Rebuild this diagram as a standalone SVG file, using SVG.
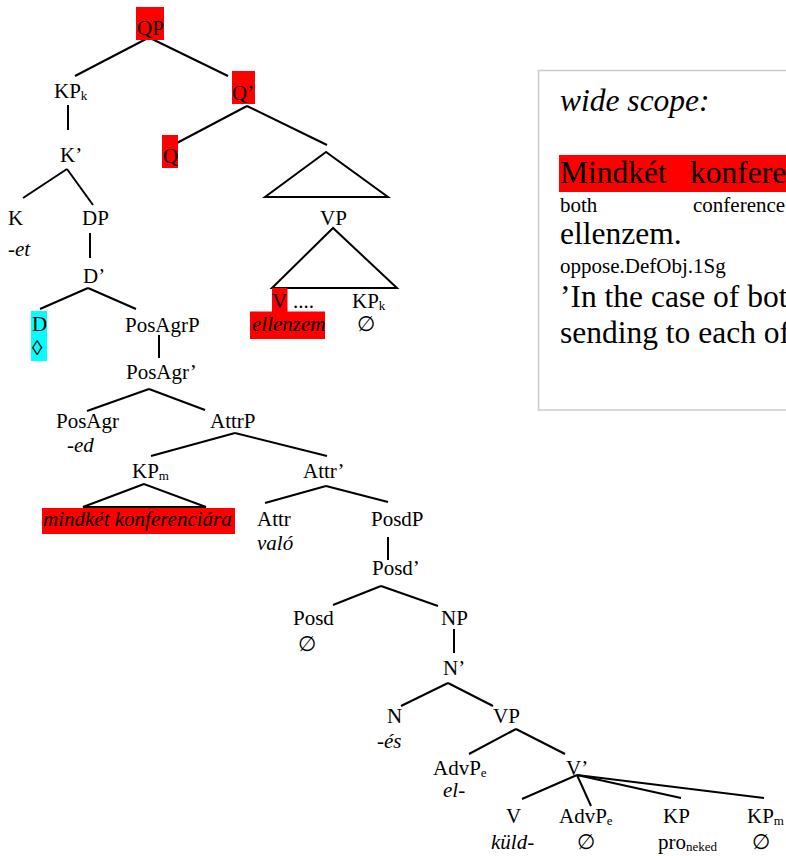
<svg xmlns="http://www.w3.org/2000/svg" width="786" height="856" viewBox="0 0 786 856">
<style>
text{font-family:"Liberation Serif","Times New Roman",serif;font-size:21px;fill:#000}
.i{font-style:italic}
.s{font-size:13px}
.b{font-size:31.5px}
.e{font-family:"Liberation Serif","DejaVu Serif",serif}
.red{fill:#ff0000}
.cy{fill:#00ffff}
#connectors line,#connectors polygon{stroke:#000;stroke-width:2;fill:none;stroke-linecap:butt}
</style>
<rect width="786" height="856" fill="#fff"/>
<g id="connectors">
<line x1="148" y1="38" x2="75" y2="76"/>
<line x1="150" y1="38" x2="228" y2="76"/>
<line x1="68" y1="105" x2="68" y2="130"/>
<line x1="67" y1="169" x2="23" y2="198"/>
<line x1="67" y1="169" x2="93" y2="205"/>
<line x1="247" y1="106" x2="175" y2="144"/>
<line x1="247" y1="106" x2="327" y2="145"/>
<polygon points="326,152 265,197 388,197"/>
<line x1="90" y1="233" x2="90" y2="258"/>
<line x1="88" y1="288" x2="40" y2="309"/>
<line x1="88" y1="288" x2="136" y2="309"/>
<line x1="159" y1="335" x2="159" y2="358"/>
<polygon points="333,228 272,288 397,288"/>
<line x1="149" y1="389" x2="87" y2="411"/>
<line x1="149" y1="389" x2="205" y2="410"/>
<line x1="235" y1="433" x2="151" y2="456"/>
<line x1="235" y1="433" x2="327" y2="456"/>
<polygon points="144,484 83,507 206,507"/>
<line x1="326" y1="486" x2="265" y2="503"/>
<line x1="326" y1="486" x2="388" y2="502"/>
<line x1="388" y1="537" x2="388" y2="560"/>
<line x1="381" y1="586" x2="333" y2="605"/>
<line x1="381" y1="586" x2="438" y2="606"/>
<line x1="454" y1="629" x2="454" y2="653"/>
<line x1="448" y1="683" x2="401" y2="706"/>
<line x1="448" y1="683" x2="493" y2="706"/>
<line x1="516" y1="729" x2="469" y2="754"/>
<line x1="516" y1="729" x2="565" y2="754"/>
<line x1="577" y1="775" x2="522" y2="799"/>
<line x1="577" y1="775" x2="591" y2="806"/>
<line x1="577" y1="775" x2="681" y2="798"/>
<line x1="577" y1="775" x2="764" y2="798"/>
</g>
<g id="n-QP"><rect class="red" x="136" y="7" width="28" height="33"/><text x="137" y="35">QP</text></g>
<g id="n-KPk"><text x="54" y="98">KP<tspan class="s" dy="2">k</tspan></text></g>
<g id="n-Qbar"><rect class="red" x="232" y="71" width="23" height="33"/><text x="232" y="100">Q’</text></g>
<g id="n-Kbar"><text x="60" y="162">K’</text></g>
<g id="n-Q"><rect class="red" x="162" y="135" width="16" height="33"/><text x="163" y="163">Q</text></g>
<g id="n-K"><text x="8" y="225">K</text><text class="i" x="8" y="256">-et</text></g>
<g id="n-DP"><text x="82" y="225">DP</text></g>
<g id="n-Dbar"><text x="83" y="283">D’</text></g>
<g id="n-D"><rect class="cy" x="31" y="311" width="16" height="50"/><text x="32" y="331">D</text><text class="e" x="32" y="355">◊</text></g>
<g id="n-PosAgrP"><text x="125" y="332">PosAgrP</text></g>
<g id="n-PosAgrbar"><text x="126" y="379">PosAgr’</text></g>
<g id="n-VP1"><text x="320" y="225">VP</text></g>
<g id="n-V1"><rect class="red" x="272" y="288" width="15.5" height="24"/><text x="272" y="308">V</text><text x="293" y="308">....</text></g>
<g id="n-ellenzem"><rect class="red" x="250" y="311.5" width="75" height="27.5"/><text class="i" x="252" y="331">ellenzem</text></g>
<g id="n-KPk2"><text x="352" y="308">KP<tspan class="s" dy="2">k</tspan></text><text class="e" x="357" y="331">∅</text></g>
<g id="n-PosAgr"><text x="56" y="428">PosAgr</text><text class="i" x="67" y="452">-ed</text></g>
<g id="n-AttrP"><text x="210" y="428">AttrP</text></g>
<g id="n-KPm"><text x="132" y="478">KP<tspan class="s" dy="2">m</tspan></text></g>
<g id="n-Attrbar"><text x="303" y="478">Attr’</text></g>
<g id="n-mindket"><rect class="red" x="42" y="508" width="193" height="26"/><text class="i" x="43" y="526">mindkét konferenciára</text></g>
<g id="n-Attr"><text x="257" y="526">Attr</text><text class="i" x="257" y="550">való</text></g>
<g id="n-PosdP"><text x="371" y="526">PosdP</text></g>
<g id="n-Posdbar"><text x="372" y="575">Posd’</text></g>
<g id="n-Posd"><text x="293" y="625">Posd</text><text class="e" x="298" y="651">∅</text></g>
<g id="n-NP"><text x="441" y="625">NP</text></g>
<g id="n-Nbar"><text x="443" y="675">N’</text></g>
<g id="n-N"><text x="387" y="723">N</text><text class="i" x="377" y="748">-és</text></g>
<g id="n-VP2"><text x="493" y="723">VP</text></g>
<g id="n-AdvPe1"><text x="433" y="775">AdvP<tspan class="s" dy="2">e</tspan></text><text class="i" x="443" y="797">el-</text></g>
<g id="n-Vbar"><text x="566" y="775">V’</text></g>
<g id="n-V2"><text x="506" y="823">V</text><text class="i" x="491" y="849">küld-</text></g>
<g id="n-AdvPe2"><text x="559" y="823">AdvP<tspan class="s" dy="2">e</tspan></text><text class="e" x="577" y="849">∅</text></g>
<g id="n-KP"><text x="663" y="823">KP</text><text x="658" y="849">pro<tspan class="s" dy="2">neked</tspan></text></g>
<g id="n-KPm2"><text x="747" y="823">KP<tspan class="s" dy="2">m</tspan></text><text class="e" x="752" y="849">∅</text></g>
<g id="box">
<rect x="538.5" y="70.5" width="260" height="339.5" fill="#fff" stroke="#cccccc" stroke-width="1.5"/>
<text class="b i" x="560" y="111">wide scope:</text>
<rect class="red" x="559" y="155" width="230" height="37"/>
<text class="b" x="560" y="183">Mindkét</text>
<text class="b" x="690" y="183">konfere</text>
<text x="560" y="212">both</text>
<text x="693" y="212">conference</text>
<text class="b" x="560" y="244">ellenzem.</text>
<text x="560" y="273">oppose.DefObj.1Sg</text>
<text class="b" x="560" y="307">’In the case of bot</text>
<text class="b" x="560" y="343">sending to each of</text>
</g>
</svg>
